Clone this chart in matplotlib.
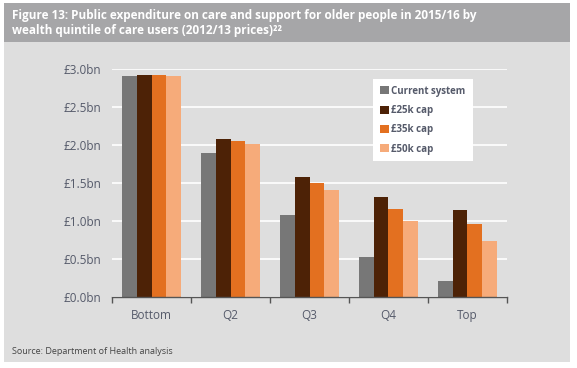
import matplotlib
matplotlib.use("Agg")
import matplotlib.pyplot as plt
from matplotlib.patches import Rectangle
import numpy as np

categories = ["Bottom", "Q2", "Q3", "Q4", "Top"]
series_names = ["Current system", "£25k cap", "£35k cap", "£50k cap"]
current = [2.91, 1.90, 1.08, 0.52, 0.21]
cap25 = [2.925, 2.08, 1.58, 1.315, 1.145]
cap35 = [2.925, 2.055, 1.50, 1.16, 0.96]
cap50 = [2.91, 2.015, 1.41, 1.00, 0.735]
yticks = [0.0, 0.5, 1.0, 1.5, 2.0, 2.5, 3.0]
ytick_labels = ["£0.0bn", "£0.5bn", "£1.0bn", "£1.5bn", "£2.0bn", "£2.5bn", "£3.0bn"]
colors = ["#777777", "#4d2206", "#e37020", "#f6ab7a"]
title = "Figure 13: Public expenditure on care and support for older people in 2015/16 by\nwealth quintile of care users (2012/13 prices)²²"
source = "Source: Department of Health analysis"

W, H = 577, 368
fig = plt.figure(figsize=(W/100, H/100), dpi=100)
fig.patch.set_facecolor("white")
plt.rcParams['font.family'] = ['Open Sans', 'DejaVu Sans']

# panels
fig.add_artist(Rectangle((4/W, 1-362/H), (570-4)/W, (362-42)/H, transform=fig.transFigure,
                         facecolor="#dedede", edgecolor="none", zorder=0))
fig.add_artist(Rectangle((4/W, 1-42/H), (570-4)/W, (42-3)/H, transform=fig.transFigure,
                         facecolor="#a6a6a8", edgecolor="none", zorder=0))
fig.text(12/W, 1-23/H, title, color="white", fontsize=8.5, fontweight="bold",
         va="center", ha="left", linespacing=1.2)
fig.text(12/W, 1-352/H, source, color="#444444", fontsize=6.5, va="center", ha="left")

ax = fig.add_axes([112.3/W, 1-296.7/H, (506.7-112.3)/W, (296.7-69.3)/H])
ax.set_facecolor("none")
ax.patch.set_alpha(0)

x = np.arange(len(categories))
bw = 0.187
data = [current, cap25, cap35, cap50]
for i, (vals, c, name) in enumerate(zip(data, colors, series_names)):
    ax.bar(x + (i - 1.5) * bw, vals, width=bw, color=c, label=name, zorder=3)

ax.set_xlim(-0.5, len(categories) - 0.5)
ax.set_ylim(0, 3.0)
ax.set_yticks(yticks)
ax.set_yticklabels(ytick_labels)
ax.grid(axis="y", color="white", linewidth=1.2, zorder=1)
ax.set_axisbelow(True)
for s in ["top", "right", "left"]:
    ax.spines[s].set_visible(False)
ax.spines["bottom"].set_color("#555555")
ax.spines["bottom"].set_linewidth(1.0)
ax.spines["bottom"].set_zorder(4)
ax.tick_params(axis="y", length=0, pad=8, labelsize=8.5, labelcolor="#555a6a")
ax.set_xticks(x)
ax.set_xticklabels(categories)
ax.tick_params(axis="x", length=0, pad=9, labelsize=8.5, labelcolor="#555a6a")
ax.set_xticks(np.arange(len(categories) + 1) - 0.5, minor=True)
ax.tick_params(axis="x", which="minor", length=4, width=1, color="#555555", direction="out")

leg = ax.legend(loc="upper left", bbox_to_anchor=((373-112.3)/(506.7-112.3), 1-(79-69.3)/(296.7-69.3)),
                frameon=True, fancybox=False, framealpha=1, edgecolor="white", facecolor="white",
                fontsize=7, handlelength=0.9, handleheight=0.9, handletextpad=0.3,
                labelspacing=0.85, borderpad=0.7, borderaxespad=0)
leg.get_frame().set_linewidth(0)
for t in leg.get_texts():
    t.set_color("#555a6a")
    t.set_fontweight("bold")

fig.savefig("out.png", dpi=100, facecolor="white")
